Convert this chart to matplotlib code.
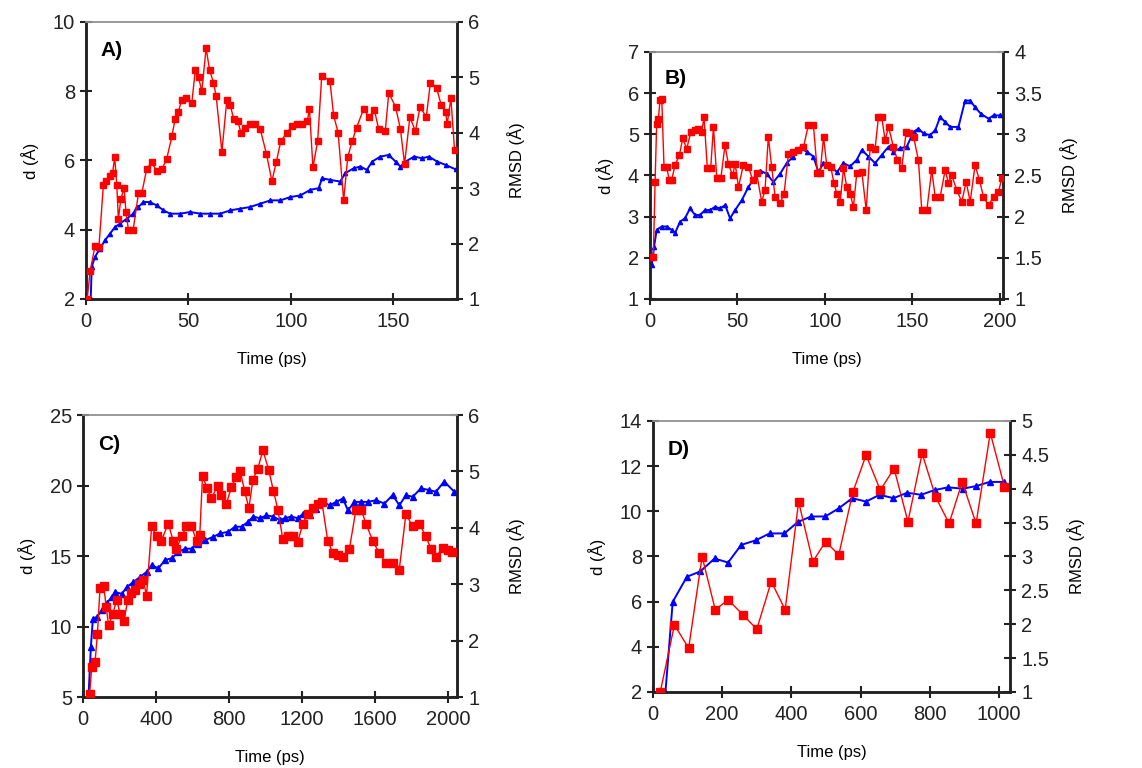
import numpy as np
import matplotlib
matplotlib.use("Agg")
import matplotlib.pyplot as plt

plt.rcParams['font.family'] = ['Liberation Sans', 'DejaVu Sans']

# ---- panel A ----
a_red_t = [0.6, 2, 4.4, 6.3, 8.5, 10, 11.7, 13, 14, 15, 15.8, 17, 18.6, 19.5, 20.7, 23, 25.6, 27.2,
           29.6, 32, 34.5, 37, 39.4, 41.9, 43.5, 45, 46.7, 49, 51.6, 53.3, 54.9, 56.5, 58.6, 60.3,
           62.2, 63.5, 66.3, 68.7, 70.4, 72, 74, 75.6, 77.7, 79.8, 82.6, 85, 88, 90.7, 92.8, 95,
           98, 100.5, 103, 105.4, 108, 109, 110.7, 113, 115, 119, 120.8, 123, 125.7, 127.7, 129.8,
           132, 135.5, 138, 140.7, 142.8, 146, 147.7, 151, 153.4, 155.4, 158, 160.7, 163, 166, 168,
           171, 173.3, 175.4, 176.2, 178, 179.8]
a_red_d = [2.0, 2.8, 3.53, 3.5, 5.3, 5.4, 5.55, 5.65, 6.1, 5.3, 4.3, 4.9, 5.2, 4.5, 4.0, 4.0, 5.05, 5.05,
           5.75, 5.95, 5.7, 5.75, 6.05, 6.7, 7.2, 7.4, 7.75, 7.8, 7.65, 8.6, 8.4, 8.0, 9.25, 8.6,
           8.25, 7.85, 6.25, 7.75, 7.6, 7.2, 7.15, 6.8, 6.95, 7.05, 7.05, 6.9, 6.2, 5.4, 5.95, 6.55,
           6.8, 7.0, 7.05, 7.05, 7.15, 7.5, 5.8, 6.55, 8.45, 8.3, 7.3, 6.8, 4.85, 6.1, 6.55,
           6.95, 7.5, 7.25, 7.45, 6.9, 6.85, 7.95, 7.55, 6.9, 5.9, 7.25, 6.85, 7.55, 7.25, 8.25,
           8.1, 7.6, 7.4, 7.05, 7.8, 6.3]
a_blue_t = [2.3, 2.8, 4.4, 6.8, 9.3, 11.7, 14.2, 16.6, 19.9, 23, 24.8, 25.6, 28, 31, 34.5, 37.8, 41,
            46, 50.8, 55.7, 60.6, 65.5, 70.4, 75.2, 80, 85, 89.9, 94.8, 99.7, 104.6, 109.4, 113.5,
            115.2, 119, 124, 126.5, 130.6, 133.9, 137, 139.6, 143.6, 147.7, 151, 153.4, 155.9, 160,
            164, 167.3, 171.3, 175.4, 180.3]
a_blue_r = [1.0, 1.58, 1.76, 1.91, 2.06, 2.18, 2.30, 2.36, 2.45, 2.54, 2.66, 2.66, 2.75, 2.75, 2.69,
            2.60, 2.54, 2.54, 2.57, 2.54, 2.54, 2.54, 2.60, 2.63, 2.66, 2.72, 2.78, 2.78, 2.84, 2.87,
            2.97, 3.0, 3.18, 3.15, 3.12, 3.27, 3.36, 3.39, 3.33, 3.48, 3.57, 3.60, 3.48, 3.39, 3.48,
            3.57, 3.54, 3.57, 3.48, 3.42, 3.34]

# ---- panel B ----
b_red_t = [0.4, 1.9, 2.9, 3.8, 4.8, 5.7, 6.7, 8, 9.5, 11, 12.4, 14.3, 16.8, 18.7, 21, 23.3, 25.8, 27.7,
           29.6, 30.9, 32.8, 34.7, 36.3, 38.2, 40.5, 42.9, 44.8, 47.3, 48.7, 50.6, 53.4, 56.3, 58.8,
           61, 63.9, 65.8, 67.7, 69.6, 71.6, 74.4, 76.7, 79.2, 82, 84.9, 87.8, 90.6, 93.5, 95.8,
           97.3, 99.3, 101.1, 103.4, 105.3, 106.9, 108.8, 110.7, 112.6, 114.5, 116.4, 118.3, 121.2,
           123.7, 126, 128.8, 130.7, 132.6, 134.5, 136.5, 139.3, 141.6, 144, 146.6, 148, 150.8,
           153.6, 155.5, 158.4, 161.2, 163.2, 166, 168.9, 170.8, 172.7, 175.6, 178.4, 180.9, 183.2,
           186, 188.5, 190.8, 193.7, 196.6, 199.4, 201.3]
b_red_d = [2.03, 2.03, 3.85, 5.26, 5.38, 5.83, 5.87, 4.21, 4.21, 3.89, 3.89, 4.25, 4.49, 4.9, 4.65,
           5.05, 5.1, 5.14, 5.05, 5.42, 4.17, 4.17, 5.18, 3.93, 3.93, 4.73, 4.29, 4.0, 4.29, 3.72,
           4.25, 4.21, 3.89, 4.05, 3.36, 3.64, 4.94, 4.21, 3.48, 3.32, 3.56, 4.53, 4.57, 4.61, 4.69,
           5.22, 5.22, 4.05, 4.05, 4.94, 4.25, 4.21, 3.81, 3.56, 3.36, 4.17, 3.72, 3.56, 3.24, 4.05,
           4.09, 3.16, 4.69, 4.65, 5.42, 5.42, 4.86, 5.18, 4.69, 4.37, 4.17, 5.06, 5.02, 4.94, 4.37,
           3.16, 3.16, 4.13, 3.48, 3.48, 4.13, 3.81, 4.0, 3.64, 3.36, 3.85, 3.36, 4.25, 3.89, 3.48,
           3.28, 3.48, 3.6, 3.93]
b_blue_t = [1, 2.3, 3.8, 6.7, 9.5, 12.4, 14.3, 17.2, 20, 22.9, 25.8, 28.6, 31.5, 34.4, 37.2, 40.1, 43,
            45.8, 48.7, 52.5, 56.3, 60.1, 63, 66.8, 70.6, 74.4, 78.2, 82, 85.9, 89.7, 93.5, 96.4,
            99.2, 103, 106.9, 110.7, 114.5, 118.3, 121.2, 125, 128.8, 132.6, 136.5, 139.3, 143.1,
            146.9, 150.8, 153.6, 156.5, 160.3, 163.2, 166, 168.9, 171.8, 176.5, 180.3, 183.2, 186,
            189.3, 193.7, 196.6, 200.4]
b_blue_r = [1.41, 1.63, 1.84, 1.88, 1.88, 1.84, 1.80, 1.94, 1.98, 2.10, 2.02, 2.02, 2.08, 2.08, 2.12,
            2.10, 2.14, 1.98, 2.08, 2.20, 2.36, 2.48, 2.56, 2.52, 2.42, 2.52, 2.65, 2.73, 2.83, 2.79,
            2.73, 2.54, 2.65, 2.63, 2.54, 2.65, 2.61, 2.69, 2.81, 2.73, 2.65, 2.75, 2.85, 2.79, 2.83,
            2.85, 3.03, 3.07, 3.01, 2.99, 3.05, 3.21, 3.15, 3.09, 3.09, 3.41, 3.41, 3.33, 3.25, 3.19,
            3.23, 3.23]

# ---- panel C ----
c_red_t = [36, 48, 66, 79, 93, 113, 127, 140, 163, 185, 203, 225, 245, 263, 285, 308, 330, 348, 376,
           403, 430, 467, 494, 512, 540, 567, 594, 622, 640, 655, 680, 703, 740, 758, 786, 813, 840,
           862, 886, 909, 931, 958, 986, 1018, 1044, 1068, 1095, 1122, 1150, 1177, 1205, 1232, 1259,
           1287, 1310, 1341, 1369, 1396, 1423, 1460, 1496, 1524, 1551, 1587, 1624, 1660, 1697, 1733,
           1770, 1806, 1843, 1879, 1907, 1934, 1971, 1998, 2025]
c_red_d = [5.2, 7.1, 7.5, 9.5, 12.7, 12.9, 11.4, 10.1, 10.9, 11.9, 10.9, 10.4, 11.9, 12.4, 12.6, 13.0,
           13.3, 12.2, 17.1, 16.4, 16.1, 17.3, 16.1, 15.5, 16.4, 17.1, 17.1, 16.1, 16.5, 20.7, 19.8,
           19.1, 20.0, 19.3, 18.7, 19.9, 20.6, 21.0, 19.6, 18.4, 20.4, 21.2, 22.5, 21.1, 19.6, 18.3,
           16.2, 16.4, 16.4, 16.0, 17.3, 18.0, 18.4, 18.7, 18.8, 16.1, 15.2, 15.1, 14.9, 15.5, 18.3,
           18.3, 17.3, 16.1, 15.2, 14.5, 14.5, 14.0, 18.0, 17.1, 17.3, 16.4, 15.5, 14.9, 15.6, 15.4,
           15.3]
c_blue_t = [30, 43, 54, 76, 103, 130, 158, 176, 213, 240, 276, 313, 349, 376, 413, 449, 486, 522, 559,
            595, 632, 668, 714, 750, 796, 832, 869, 905, 933, 969, 1005, 1042, 1078, 1106, 1142, 1178,
            1206, 1242, 1279, 1315, 1351, 1388, 1424, 1452, 1488, 1524, 1561, 1606, 1652, 1697, 1734,
            1770, 1807, 1852, 1898, 1934, 1980, 2035]
c_blue_r = [1.0, 1.89, 2.39, 2.42, 2.54, 2.66, 2.78, 2.86, 2.83, 2.95, 3.04, 3.13, 3.22, 3.34, 3.28,
            3.43, 3.46, 3.57, 3.63, 3.63, 3.72, 3.78, 3.84, 3.90, 3.93, 4.02, 4.02, 4.11, 4.20, 4.17,
            4.22, 4.20, 4.14, 4.17, 4.20, 4.17, 4.25, 4.22, 4.34, 4.46, 4.40, 4.46, 4.52, 4.31, 4.46,
            4.46, 4.46, 4.49, 4.43, 4.58, 4.40, 4.58, 4.55, 4.70, 4.67, 4.64, 4.82, 4.64]

# ---- panel D ----
d_red_t = [21, 62, 103, 142, 180, 217, 260, 300, 342, 382, 421, 462, 499, 537, 578, 616, 657, 697,
           737, 778, 817, 856, 894, 934, 975, 1016]
d_red_d = [2.0, 4.97, 3.94, 7.99, 5.64, 6.08, 5.42, 4.78, 6.89, 5.64, 10.42, 7.77, 8.66, 8.07, 10.86,
           12.49, 10.94, 11.89, 9.54, 12.56, 10.64, 9.46, 11.3, 9.46, 13.47, 11.09]
d_blue_t = [36, 57, 98, 137, 178, 217, 255, 298, 337, 380, 419, 457, 498, 537, 576, 616, 655, 695,
            735, 775, 814, 853, 896, 935, 973, 1014]
d_blue_r = [1.0, 2.33, 2.70, 2.78, 2.97, 2.91, 3.17, 3.24, 3.34, 3.34, 3.51, 3.59, 3.59, 3.71, 3.86,
            3.81, 3.91, 3.86, 3.94, 3.91, 3.98, 4.02, 4.0, 4.04, 4.10, 4.10]

RED = '#ff0000'
BLUE = '#0000ff'

fig = plt.figure(figsize=(11.42, 7.68), dpi=100)


def make_panel(rect, label, xlim, xticks, ylim, yticks, rlim, rticks, rticklabels,
               red_t, red_d, blue_t, blue_r, red_ms, blue_ms, rpad):
    ax = fig.add_axes(rect)
    ax2 = ax.twinx()
    ax.plot(red_t, red_d, color=RED, lw=1.0, marker='s', ms=red_ms, zorder=3)
    ax2.plot(blue_t, blue_r, color=BLUE, lw=1.4, marker='^', ms=blue_ms, zorder=3)
    ax.set_xlim(*xlim)
    ax.set_ylim(*ylim)
    ax2.set_ylim(*rlim)
    ax.set_xticks(xticks)
    ax.set_yticks(yticks)
    ax2.set_yticks(rticks)
    ax2.set_yticklabels(rticklabels)
    for a in (ax, ax2):
        for s in ('left', 'right', 'bottom'):
            a.spines[s].set_linewidth(1.8)
            a.spines[s].set_color('#222222')
        a.spines['top'].set_color('#999999')
        a.spines['top'].set_linewidth(1.2)
        a.tick_params(direction='inout', length=9, width=1.5, labelsize=14.5, colors='#222222')
    ax.tick_params(axis='x', pad=5)
    ax.set_xlabel('Time (ps)', fontsize=12, labelpad=15)
    ax.set_ylabel('d (Å)', fontsize=12, labelpad=10)
    ax2.set_ylabel('RMSD (Å)', fontsize=12, labelpad=rpad)
    ax.text(0.04, 0.93, label, transform=ax.transAxes, fontsize=15, fontweight='bold',
            va='top', ha='left')
    ax.set_zorder(ax2.get_zorder() + 1)
    ax.patch.set_visible(False)
    return ax, ax2


make_panel([0.0753, 0.6107, 0.3249, 0.3607], 'A)', (0, 181), [0, 50, 100, 150],
           (2, 10), [2, 4, 6, 8, 10], (1, 6), [1, 2, 3, 4, 5, 6], ['1', '2', '3', '4', '5', '6'],
           a_red_t, a_red_d, a_blue_t, a_blue_r, 4.5, 3, 20)

make_panel([0.5692, 0.6107, 0.3091, 0.3216], 'B)', (0, 202), [0, 50, 100, 150, 200],
           (1, 7), [1, 2, 3, 4, 5, 6, 7], (1, 4), [1, 1.5, 2, 2.5, 3, 3.5, 4],
           ['1', '1.5', '2', '2.5', '3', '3.5', '4'],
           b_red_t, b_red_d, b_blue_t, b_blue_r, 4.5, 3, 13)

make_panel([0.0727, 0.0924, 0.3275, 0.3672], 'C)', (0, 2050), [0, 400, 800, 1200, 1600, 2000],
           (5, 25), [5, 10, 15, 20, 25], (1, 6), [1, 2, 3, 4, 5, 6], ['1', '2', '3', '4', '5', '6'],
           c_red_t, c_red_d, c_blue_t, c_blue_r, 5.5, 5, 20)

make_panel([0.5718, 0.0990, 0.3126, 0.3529], 'D)', (0, 1032), [0, 200, 400, 600, 800, 1000],
           (2, 14), [2, 4, 6, 8, 10, 12, 14], (1, 5), [1, 1.5, 2, 2.5, 3, 3.5, 4, 4.5, 5],
           ['1', '1.5', '2', '2.5', '3', '3.5', '4', '4.5', '5'],
           d_red_t, d_red_d, d_blue_t, d_blue_r, 5.5, 5, 13)

fig.savefig('out.png', dpi=100, facecolor='white')
